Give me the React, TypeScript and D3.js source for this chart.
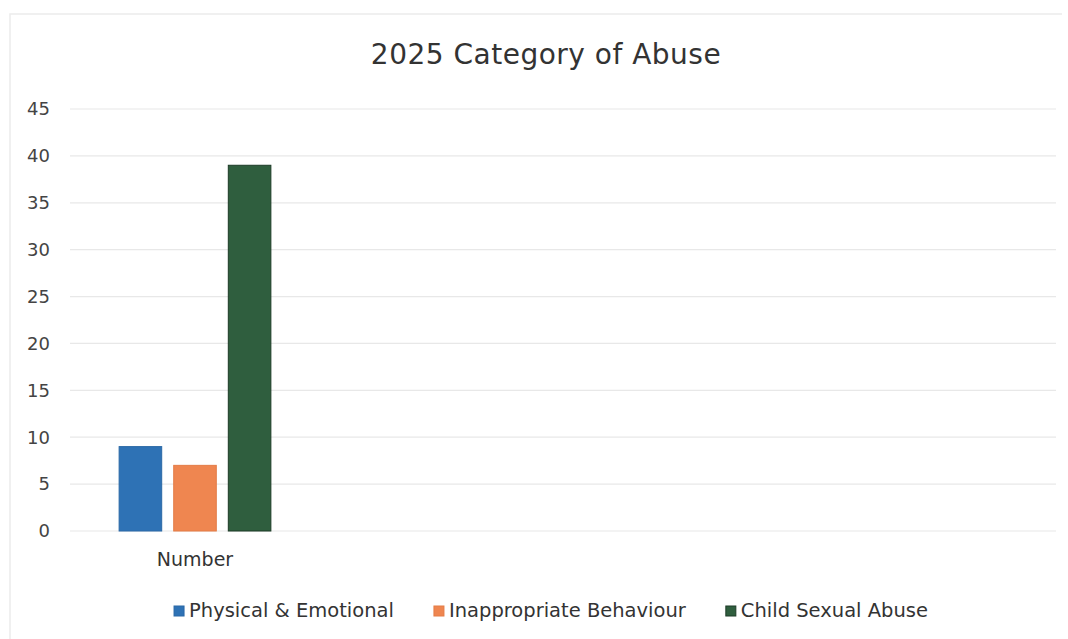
import React, { useEffect, useRef } from "react";
import * as d3 from "d3";

const title = "2025 Category of Abuse";
const categories = ["Number"];
const seriesNames = ["Physical & Emotional", "Inappropriate Behaviour", "Child Sexual Abuse"];
const seriesValues = [[9], [7], [39]];
const seriesColors = ["#2e72b5", "#ef8650", "#2f5e3e"];
const seriesStrokes = ["#2a68a6", "#e47c46", "#1d3b27"];
const yTicks = [0, 5, 10, 15, 20, 25, 30, 35, 40, 45];

const W = 1068;
const H = 639;
const FONT = "'DejaVu Sans', Arial, sans-serif";

export default function App() {
  const ref = useRef<SVGSVGElement | null>(null);

  useEffect(() => {
    const svg = d3.select(ref.current);
    svg.selectAll("*").remove();

    const plotLeft = 70;
    const plotRight = 1056;
    const y = d3.scaleLinear().domain([0, 45]).range([531, 109]);
    const x0 = d3.scaleBand<string>().domain(categories).range([70, 320]);
    const x1 = d3
      .scaleBand<string>()
      .domain(seriesNames)
      .range([0, x0.bandwidth()])
      .paddingInner(0.22)
      .paddingOuter(0.9);

    svg.append("rect").attr("width", W).attr("height", H).attr("fill", "#ffffff");
    // faint chart border
    svg
      .append("path")
      .attr("d", `M10,${H} L10,14 L1062,14`)
      .attr("fill", "none")
      .attr("stroke", "#ececec")
      .attr("stroke-width", 1.5);

    // title
    svg
      .append("text")
      .attr("x", 546)
      .attr("y", 64)
      .attr("text-anchor", "middle")
      .attr("font-family", FONT)
      .attr("font-size", 28)
      .attr("letter-spacing", 0.5)
      .attr("fill", "#333333")
      .text(title);

    // gridlines
    const g = svg.append("g");
    g.selectAll("line.grid")
      .data(yTicks)
      .join("line")
      .attr("class", "grid")
      .attr("x1", plotLeft)
      .attr("x2", plotRight)
      .attr("y1", (d) => y(d))
      .attr("y2", (d) => y(d))
      .attr("stroke", "#e8e8e8")
      .attr("stroke-width", 1.2);

    // y tick labels
    g.selectAll("text.ytick")
      .data(yTicks)
      .join("text")
      .attr("class", "ytick")
      .attr("x", 50)
      .attr("y", (d) => y(d))
      .attr("dy", "0.35em")
      .attr("text-anchor", "end")
      .attr("font-family", FONT)
      .attr("font-size", 18)
      .attr("fill", "#444444")
      .text((d) => String(d));

    // bars
    categories.forEach((cat, ci) => {
      const gx = x0(cat) || 0;
      seriesNames.forEach((s, si) => {
        const v = seriesValues[si][ci];
        g.append("rect")
          .attr("x", gx + (x1(s) || 0))
          .attr("y", y(v))
          .attr("width", x1.bandwidth())
          .attr("height", y(0) - y(v))
          .attr("fill", seriesColors[si])
          .attr("stroke", seriesStrokes[si])
          .attr("stroke-width", 1);
      });
      g.append("text")
        .attr("x", gx + x0.bandwidth() / 2)
        .attr("y", 566)
        .attr("text-anchor", "middle")
        .attr("font-family", FONT)
        .attr("font-size", 19)
        .attr("fill", "#333333")
        .text(cat);
    });

    // legend
    const legend = svg.append("g");
    const items: { g: any; w: number }[] = [];
    seriesNames.forEach((s, i) => {
      const ig = legend.append("g");
      ig.append("rect")
        .attr("x", 0)
        .attr("y", -11)
        .attr("width", 10)
        .attr("height", 10)
        .attr("fill", seriesColors[i])
        .attr("stroke", seriesStrokes[i]);
      const t = ig
        .append("text")
        .attr("x", 15)
        .attr("y", 0)
        .attr("font-family", FONT)
        .attr("font-size", 19.5)
        .attr("fill", "#333333")
        .text(s);
      const tw = (t.node() as SVGTextElement).getComputedTextLength();
      items.push({ g: ig, w: 15 + tw });
    });
    const gap = 40;
    const total = items.reduce((a, b) => a + b.w, 0) + gap * (items.length - 1);
    let cx = 551 - total / 2;
    items.forEach((it) => {
      it.g.attr("transform", `translate(${cx},617)`);
      cx += it.w + gap;
    });
  }, []);

  return (
    <svg ref={ref} width={W} height={H} style={{ display: "block", position: "absolute", left: 0, top: 0 }} />
  );
}
